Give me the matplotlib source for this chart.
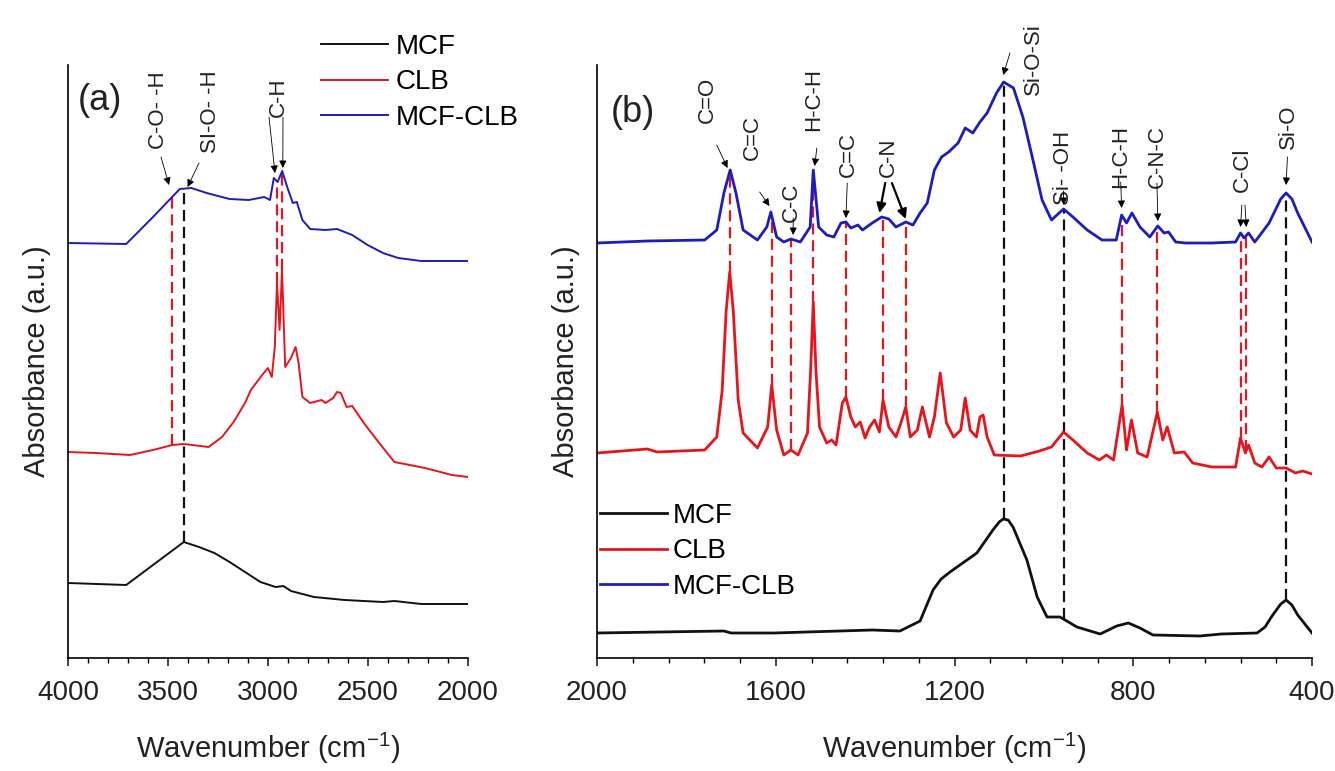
import numpy as np
import matplotlib
matplotlib.use('Agg')
import matplotlib.pyplot as plt
from matplotlib.ticker import MultipleLocator

plt.rcParams['font.family'] = ['Liberation Sans', 'DejaVu Sans']
plt.rcParams['mathtext.default'] = 'regular'

BLACK = '#111111'
RED = '#e8141c'
BLUE = '#1c1cc0'

# ---------------- panel (a): 4000-2000 cm-1 ----------------
wn_a_mcf = [4000, 3709, 3421, 3345, 3268, 3192, 3115, 3038, 2962, 2923, 2885,
            2847, 2770, 2617, 2425, 2368, 2234, 2000]
ab_a_mcf = [0.78, 0.76, 1.19, 1.14, 1.08, 0.99, 0.89, 0.79, 0.74, 0.75, 0.70,
            0.68, 0.64, 0.61, 0.59, 0.60, 0.57, 0.57]

wn_a_clb = [4000, 3862, 3690, 3575, 3479, 3421, 3297, 3230, 3172, 3115, 3086,
            3067, 3029, 3000, 2981, 2966, 2955, 2942, 2930, 2914, 2885, 2862,
            2847, 2828, 2789, 2732, 2713, 2674, 2655, 2636, 2607, 2579, 2521,
            2444, 2368, 2291, 2215, 2138, 2081, 2000]
ab_a_clb = [2.09, 2.08, 2.06, 2.11, 2.16, 2.17, 2.14, 2.24, 2.39, 2.58, 2.71,
            2.76, 2.86, 2.93, 2.84, 3.14, 3.78, 3.31, 3.91, 2.94, 3.03, 3.14,
            2.98, 2.64, 2.58, 2.61, 2.58, 2.63, 2.69, 2.68, 2.54, 2.55, 2.38,
            2.18, 1.99, 1.96, 1.93, 1.89, 1.86, 1.84]

wn_a_mix = [4000, 3709, 3575, 3441, 3383, 3307, 3192, 3096, 3019, 2990, 2971,
            2952, 2929, 2904, 2876, 2856, 2828, 2789, 2713, 2655, 2579, 2502,
            2425, 2349, 2234, 2000]
ab_a_mix = [4.18, 4.17, 4.44, 4.72, 4.73, 4.68, 4.62, 4.61, 4.64, 4.61, 4.83,
            4.79, 4.90, 4.74, 4.58, 4.59, 4.41, 4.32, 4.31, 4.32, 4.26, 4.16,
            4.08, 4.03, 4.00, 4.00]

# ---------------- panel (b): 2000-400 cm-1 ----------------
wn_b_mcf = [2000, 1716, 1700, 1604, 1384, 1322, 1277, 1248, 1230, 1210, 1150,
            1114, 1100, 1091, 1080, 1069, 1038, 1015, 993, 964, 926, 874, 837,
            811, 785, 756, 651, 603, 523, 505, 491, 470, 458, 445, 432, 400]
ab_b_mcf = [0.28, 0.30, 0.28, 0.28, 0.31, 0.30, 0.40, 0.71, 0.82, 0.89, 1.08,
            1.31, 1.39, 1.42, 1.41, 1.34, 1.01, 0.64, 0.44, 0.44, 0.34, 0.27,
            0.35, 0.38, 0.33, 0.26, 0.25, 0.27, 0.28, 0.34, 0.44, 0.57, 0.61,
            0.56, 0.46, 0.28]

wn_b_clb = [2000, 1887, 1866, 1759, 1732, 1720, 1711, 1703, 1695, 1684, 1673,
            1641, 1618, 1609, 1598, 1582, 1566, 1550, 1529, 1522, 1516, 1510,
            1502, 1486, 1475, 1465, 1451, 1443, 1432, 1422, 1411, 1400, 1390,
            1379, 1368, 1360, 1347, 1331, 1320, 1309, 1299, 1283, 1272, 1256,
            1245, 1232, 1218, 1202, 1186, 1176, 1165, 1151, 1143, 1136, 1127,
            1111, 1052, 1010, 983, 956, 935, 903, 876, 860, 844, 825, 815, 804,
            790, 769, 746, 734, 724, 708, 686, 667, 624, 571, 560, 549, 542,
            528, 512, 496, 480, 458, 437, 421, 400]
ab_b_clb = [2.08, 2.12, 2.09, 2.11, 2.24, 2.70, 3.50, 3.89, 3.50, 2.61, 2.28,
            2.13, 2.34, 2.76, 2.31, 2.06, 2.11, 2.06, 2.28, 2.90, 3.59, 2.90,
            2.34, 2.18, 2.21, 2.16, 2.58, 2.64, 2.44, 2.34, 2.39, 2.23, 2.34,
            2.41, 2.29, 2.61, 2.34, 2.24, 2.38, 2.54, 2.24, 2.31, 2.54, 2.24,
            2.44, 2.88, 2.38, 2.24, 2.31, 2.63, 2.31, 2.24, 2.44, 2.46, 2.24,
            2.06, 2.05, 2.10, 2.14, 2.29, 2.21, 2.08, 2.01, 2.06, 2.01, 2.56,
            2.11, 2.41, 2.08, 2.04, 2.49, 2.21, 2.34, 2.08, 2.09, 1.98, 1.94,
            1.94, 2.23, 2.08, 2.16, 1.98, 1.94, 2.04, 1.93, 1.93, 1.88, 1.90,
            1.87]

wn_b_mix = [2000, 1887, 1759, 1732, 1716, 1702, 1689, 1673, 1641, 1620, 1611,
            1598, 1582, 1566, 1545, 1523, 1516, 1504, 1486, 1470, 1454, 1443,
            1432, 1416, 1406, 1384, 1363, 1347, 1331, 1309, 1293, 1277, 1261,
            1245, 1229, 1213, 1192, 1176, 1159, 1143, 1127, 1106, 1090, 1068,
            1047, 1026, 1004, 983, 956, 935, 903, 870, 838, 826, 815, 803, 785,
            763, 745, 731, 721, 705, 683, 656, 624, 571, 560, 552, 542, 528,
            496, 470, 458, 445, 432, 400]
ab_b_mix = [4.18, 4.20, 4.21, 4.31, 4.68, 4.91, 4.68, 4.31, 4.21, 4.34, 4.49,
            4.24, 4.19, 4.22, 4.19, 4.34, 4.91, 4.34, 4.26, 4.24, 4.38, 4.39,
            4.33, 4.36, 4.31, 4.38, 4.44, 4.42, 4.34, 4.39, 4.36, 4.48, 4.58,
            4.91, 5.04, 5.09, 5.18, 5.33, 5.28, 5.39, 5.48, 5.68, 5.79, 5.73,
            5.44, 5.04, 4.61, 4.41, 4.52, 4.44, 4.31, 4.21, 4.21, 4.46, 4.38,
            4.48, 4.34, 4.24, 4.35, 4.28, 4.29, 4.19, 4.18, 4.18, 4.18, 4.19,
            4.28, 4.23, 4.28, 4.19, 4.38, 4.62, 4.68, 4.62, 4.48, 4.19]

# band positions marked with dashed guide lines
red_guides_a = [3479, 2955, 2930]
black_guides_a = [3421]
red_guides_b = [1703, 1609, 1566, 1516, 1443, 1360, 1309, 825, 746, 560, 547]
black_guides_b = [1090, 956, 458]

# band labels: text, text position, list of (arrow tail, arrow head), bold arrow
labels_a = [
    ('C-O- -H', (3545, 5.51), [((3535, 5.04), (3495, 4.76))], False),
    ('SI-O- -H', (3290, 5.49), [((3345, 4.98), (3402, 4.74))], False),
    ('C-H', (2950, 5.64), [((2995, 5.44), (2965, 4.88)),
                           ((2925, 5.44), (2926, 4.93))], False),
]
labels_b = [
    ('C=O', (1753, 5.61), [((1732, 5.16), (1708, 4.93))], False),
    ('C=C', (1652, 5.23), [((1636, 4.69), (1614, 4.55))], False),
    ('C-C', (1566, 4.59), [((1561, 4.43), (1561, 4.26))], False),
    ('H-C-H', (1515, 5.61), [((1508, 5.13), (1513, 4.95))], False),
    ('C=C', (1438, 5.06), [((1440, 4.78), (1443, 4.43))], False),
    ('C-N', (1347, 5.04), [((1355, 4.78), (1368, 4.48)),
                           ((1340, 4.78), (1309, 4.42))], True),
    ('Si-O-Si', (1024, 6.02), [((1076, 6.08), (1091, 5.86))], False),
    ('Si- -OH', (956, 4.93), [((956, 4.70), (956, 4.56))], False),
    ('H-C-H', (828, 5.04), [((828, 4.79), (826, 4.53))], False),
    ('C-N-C', (747, 5.04), [((747, 4.78), (745, 4.40))], False),
    ('C-Cl', (555, 4.91), [((557, 4.56), (560, 4.34)),
                           ((550, 4.56), (547, 4.34))], False),
    ('Si-O', (453, 5.34), [((455, 5.04), (458, 4.76))], False),
]


def curve_at(wn, ab, x):
    return np.interp(x, wn[::-1], ab[::-1])


def draw_guides(ax, guides, wn_top, ab_top, wn_bot, ab_bot, color):
    for g in guides:
        y0 = curve_at(wn_bot, ab_bot, g)
        y1 = curve_at(wn_top, ab_top, g)
        ax.plot([g, g], [y0, y1], color=color, lw=1.6, dashes=(5.0, 2.6), zorder=1)


def draw_labels(ax, labels):
    for text, pos, arrows, bold in labels:
        ax.text(pos[0], pos[1], text, rotation=90, ha='center', va='center',
                fontsize=16, color='#222222')
        for tail, head in arrows:
            ax.annotate('', xy=head, xytext=tail,
                        arrowprops=dict(arrowstyle='-|>', color='black',
                                        lw=1.6 if bold else 0.6,
                                        mutation_scale=14 if bold else 11,
                                        shrinkA=0, shrinkB=0))


def style_axis(ax, xmax, xmin, major, minor):
    ax.set_xlim(xmax, xmin)
    ax.set_ylim(0.03, 5.96)
    ax.spines['top'].set_visible(False)
    ax.spines['right'].set_visible(False)
    ax.spines['left'].set_linewidth(1.2)
    ax.spines['bottom'].set_linewidth(1.2)
    ax.set_yticks([])
    ax.xaxis.set_major_locator(MultipleLocator(major))
    ax.xaxis.set_minor_locator(MultipleLocator(minor))
    ax.tick_params(axis='x', which='major', length=6, width=1.2, labelsize=20,
                   pad=10, colors='#222222')
    ax.tick_params(axis='x', which='minor', length=3.5, width=1.0)
    ax.set_xlabel('Wavenumber (cm$^{-1}$)', fontsize=21, labelpad=18,
                  color='#222222')
    ax.set_ylabel('Absorbance (a.u.)', fontsize=21, labelpad=12,
                  color='#222222')


fig = plt.figure(figsize=(13.35, 7.71), dpi=100)
ax_a = fig.add_axes([68 / 1335, 1 - 658 / 771, 400 / 1335, 593 / 771])
ax_b = fig.add_axes([597 / 1335, 1 - 658 / 771, 715 / 1335, 593 / 771])

# panel (a)
draw_guides(ax_a, red_guides_a, wn_a_mix, ab_a_mix, wn_a_clb, ab_a_clb, RED)
draw_guides(ax_a, black_guides_a, wn_a_mix, ab_a_mix, wn_a_mcf, ab_a_mcf, BLACK)
ax_a.plot(wn_a_mcf, ab_a_mcf, color=BLACK, lw=1.4, label='MCF')
ax_a.plot(wn_a_clb, ab_a_clb, color=RED, lw=1.4, label='CLB')
ax_a.plot(wn_a_mix, ab_a_mix, color=BLUE, lw=1.4, label='MCF-CLB')
style_axis(ax_a, 4000, 2000, 500, 100)
draw_labels(ax_a, labels_a)
ax_a.text(0.08, 0.94, '(a)', transform=ax_a.transAxes, fontsize=26,
          ha='center', va='center', color='#222222')
ax_a.legend(loc='upper left', bbox_to_anchor=(321 / 1335, 1 - 34 / 771),
            bbox_transform=fig.transFigure, frameon=False, fontsize=20,
            handlelength=2.4, handletextpad=0.3, labelspacing=0.34,
            borderpad=0, borderaxespad=0)

# panel (b)
draw_guides(ax_b, red_guides_b, wn_b_mix, ab_b_mix, wn_b_clb, ab_b_clb, RED)
draw_guides(ax_b, black_guides_b, wn_b_mix, ab_b_mix, wn_b_mcf, ab_b_mcf, BLACK)
ax_b.plot(wn_b_mcf, ab_b_mcf, color=BLACK, lw=2.0, label='MCF')
ax_b.plot(wn_b_clb, ab_b_clb, color=RED, lw=2.0, label='CLB')
ax_b.plot(wn_b_mix, ab_b_mix, color=BLUE, lw=2.0, label='MCF-CLB')
style_axis(ax_b, 2000, 400, 400, 80)
draw_labels(ax_b, labels_b)
ax_b.text(0.05, 0.92, '(b)', transform=ax_b.transAxes, fontsize=26,
          ha='center', va='center', color='#222222')
ax_b.legend(loc='upper left', bbox_to_anchor=(600 / 1335, 1 - 503 / 771),
            bbox_transform=fig.transFigure, frameon=False, fontsize=20,
            handlelength=2.4, handletextpad=0.22, labelspacing=0.34,
            borderpad=0, borderaxespad=0)

fig.savefig('out.png', dpi=100)
